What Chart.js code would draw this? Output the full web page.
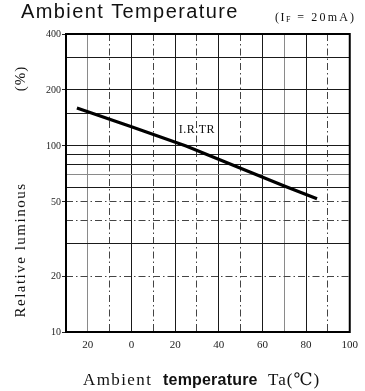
<!DOCTYPE html>
<html>
<head>
<meta charset="utf-8">
<script src="https://cdn.jsdelivr.net/npm/chart.js@4/dist/chart.umd.min.js"></script>
<style>
  html, body { margin: 0; padding: 0; background: #fff; }
  #wrap { width: 365px; height: 391px; position: relative; }
</style>
</head>
<body>
<div id="wrap"><canvas id="c" width="365" height="391"></canvas></div>
<script>
// Relative luminous intensity vs. ambient temperature (IF = 20mA)
const temperatures = [-25, 0, 25, 50, 70, 85];
const relativeLuminous = [160, 127, 100, 76, 61, 52];

// Axis ranges and labelled ticks
const xRange = [-30, 100];
const yRange = [10, 400];
const xTickLabels = { '-20': '20', '0': '0', '20': '20', '40': '40', '60': '60', '80': '80', '100': '100' };
const yTickLabels = [10, 20, 50, 100, 200, 400];

// Curve label
const curveLabel = 'I.R.TR';
const curveLabelAt = [30, 122];

// Grid line styles (dash-dot lines and lighter lines, as on the printed sheet)
const xDashed = [-10, 10, 30, 50, 90];
const xLight = [-20, 70];
const yDashed = [20, 40, 50];
const yLight = [70];

const SERIF = '"Liberation Serif", "DejaVu Serif", serif';
const SANS = '"Liberation Sans", Arial, sans-serif';

function gridColor(light, dashed, edge) {
  return function (ctx) {
    if (!ctx.tick) return '#222';
    const v = Math.round(ctx.tick.value);
    if (edge.includes(v)) return 'rgba(0,0,0,0)';
    if (light.includes(v)) return '#8a8a8a';
    if (dashed.includes(v)) return '#444';
    return '#1a1a1a';
  };
}
function gridDash(dashed) {
  return function (ctx) {
    if (!ctx.tick) return [];
    return dashed.includes(Math.round(ctx.tick.value)) ? [7, 3, 1.5, 3] : [];
  };
}

const decorations = {
  id: 'decorations',
  afterDatasetsDraw(chart) {
    const { ctx, chartArea: a } = chart;
    ctx.save();
    // heavy frame around the plot
    ctx.strokeStyle = '#000';
    ctx.lineWidth = 2;
    ctx.strokeRect(a.left, a.top, a.right - a.left, a.bottom - a.top);
    // curve label
    const xs = chart.scales.x, ys = chart.scales.y;
    ctx.fillStyle = '#111';
    ctx.font = '12px ' + SERIF;
    ctx.textAlign = 'center';
    ctx.textBaseline = 'middle';
    ctx.letterSpacing = '0.5px';
    ctx.fillText(curveLabel, xs.getPixelForValue(curveLabelAt[0]), ys.getPixelForValue(curveLabelAt[1]));
    ctx.restore();
  },
  afterDraw(chart) {
    const ctx = chart.ctx;
    ctx.save();
    ctx.fillStyle = '#111';
    ctx.textBaseline = 'alphabetic';
    ctx.textAlign = 'left';

    // heading
    ctx.font = '20px ' + SANS;
    ctx.letterSpacing = '1.4px';
    ctx.fillText('Ambient Temperature', 21, 18);

    // test condition (IF = 20mA)
    ctx.font = '12px ' + SERIF;
    ctx.letterSpacing = '1.5px';
    let x = 275;
    ctx.fillText('(I', x, 20.5);
    x += ctx.measureText('(I').width;
    ctx.font = '8px ' + SERIF;
    ctx.fillText('F', x, 22);
    x += ctx.measureText('F').width;
    ctx.font = '12px ' + SERIF;
    ctx.letterSpacing = '2.2px';
    ctx.fillText(' = 20mA)', x, 20.5);

    // x axis title, mixed faces
    ctx.letterSpacing = '1.4px';
    ctx.font = '17px ' + SERIF;
    ctx.fillText('Ambient', 83, 385);
    ctx.letterSpacing = '0.2px';
    ctx.font = 'bold 16px ' + SANS;
    ctx.fillText('temperature', 163, 385);
    ctx.letterSpacing = '1px';
    ctx.font = '17px ' + SERIF;
    ctx.fillText('Ta(\u2103)', 268, 385);

    // y axis title, rotated
    ctx.textAlign = 'center';
    ctx.font = '15px ' + SERIF;
    ctx.letterSpacing = '1.5px';
    ctx.translate(25, 250);
    ctx.rotate(-Math.PI / 2);
    ctx.fillText('Relative luminous', 0, 0);
    ctx.rotate(Math.PI / 2);
    ctx.translate(0, 78.5 - 250);
    ctx.rotate(-Math.PI / 2);
    ctx.letterSpacing = '1px';
    ctx.fillText('(%)', 0, 0);
    ctx.restore();
  }
};

new Chart(document.getElementById('c'), {
  type: 'line',
  data: {
    datasets: [{
      data: temperatures.map((t, i) => ({ x: t, y: relativeLuminous[i] })),
      borderColor: '#000',
      borderWidth: 3.2,
      pointRadius: 0,
      tension: 0,
      fill: false
    }]
  },
  options: {
    responsive: false,
    animation: false,
    devicePixelRatio: 1,
    layout: { padding: { top: 34, right: 10, left: 0, bottom: 0 } },
    plugins: { legend: { display: false }, tooltip: { enabled: false }, title: { display: false } },
    scales: {
      x: {
        type: 'linear',
        min: xRange[0],
        max: xRange[1],
        afterFit(s) { s.height = 59; },
        ticks: {
          stepSize: 10,
          autoSkip: false,
          maxRotation: 0,
          padding: 7,
          color: '#222',
          font: { family: SERIF, size: 11 },
          callback: (v) => (xTickLabels[String(v)] !== undefined ? xTickLabels[String(v)] : '')
        },
        grid: {
          drawTicks: false,
          lineWidth: 1,
          color: gridColor(xLight, xDashed, [xRange[0], xRange[1]])
        },
        border: { display: false, dash: gridDash(xDashed) }
      },
      y: {
        type: 'logarithmic',
        min: yRange[0],
        max: yRange[1],
        afterFit(s) { s.width = 66; },
        ticks: {
          autoSkip: false,
          padding: 1,
          color: '#222',
          font: { family: SERIF, size: 10 },
          callback: (v) => (yTickLabels.includes(Math.round(v)) ? String(Math.round(v)) : '')
        },
        grid: {
          drawTicks: true,
          tickLength: 4,
          tickColor: (ctx) => (ctx.tick && yTickLabels.includes(Math.round(ctx.tick.value)) ? '#222' : 'rgba(0,0,0,0)'),
          lineWidth: 1,
          color: gridColor(yLight, yDashed, [yRange[0], yRange[1]])
        },
        border: { display: false, dash: gridDash(yDashed) }
      }
    }
  },
  plugins: [decorations]
});
</script>
</body>
</html>
